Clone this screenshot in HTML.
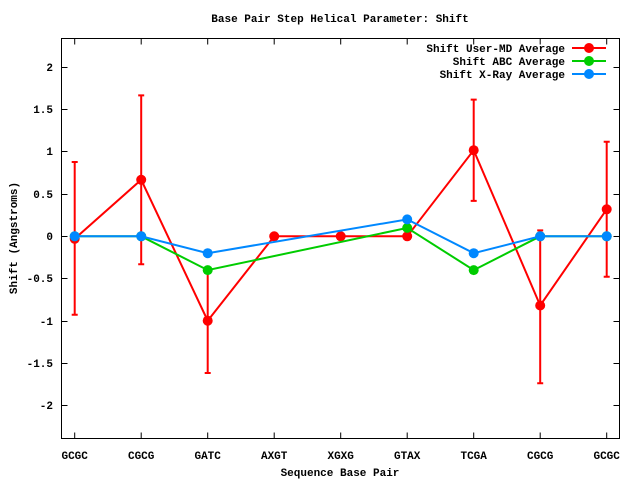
<!DOCTYPE html>
<html><head><style>
html,body{margin:0;padding:0;background:#fff;}
svg text{font-family:"Liberation Mono","DejaVu Sans Mono",monospace;font-weight:bold;font-size:11px;fill:#000;}
</style></head><body>
<svg width="640" height="480" xmlns="http://www.w3.org/2000/svg">
<rect width="640" height="480" fill="#fff"/>
<text x="340" y="22" text-anchor="middle">Base Pair Step Helical Parameter: Shift</text>
<rect x="61.5" y="38.5" width="558" height="400" fill="none" stroke="#000" stroke-width="1"/>
<g stroke="#000" stroke-width="1">
<path d="M61.5 67.5h6M619.5 67.5h-6M61.5 109.5h6M619.5 109.5h-6M61.5 151.5h6M619.5 151.5h-6M61.5 194.5h6M619.5 194.5h-6M61.5 236.5h6M619.5 236.5h-6M61.5 278.5h6M619.5 278.5h-6M61.5 321.5h6M619.5 321.5h-6M61.5 363.5h6M619.5 363.5h-6M61.5 405.5h6M619.5 405.5h-6"/>
<path d="M74.7 438.5v-6M74.7 38.5v6M141.2 438.5v-6M141.2 38.5v6M207.7 438.5v-6M207.7 38.5v6M274.2 438.5v-6M274.2 38.5v6M340.7 438.5v-6M340.7 38.5v6M407.2 438.5v-6M407.2 38.5v6M473.7 438.5v-6M473.7 38.5v6M540.2 438.5v-6M540.2 38.5v6M606.7 438.5v-6M606.7 38.5v6"/>
</g>
<g text-anchor="end">
<text x="53" y="71">2</text><text x="53" y="113">1.5</text><text x="53" y="155">1</text><text x="53" y="198">0.5</text><text x="53" y="240">0</text><text x="53" y="282">-0.5</text><text x="53" y="325">-1</text><text x="53" y="367">-1.5</text><text x="53" y="409">-2</text>
</g>
<g text-anchor="middle">
<text x="74.7" y="459">GCGC</text><text x="141.2" y="459">CGCG</text><text x="207.7" y="459">GATC</text><text x="274.2" y="459">AXGT</text><text x="340.7" y="459">XGXG</text><text x="407.2" y="459">GTAX</text><text x="473.7" y="459">TCGA</text><text x="540.2" y="459">CGCG</text><text x="606.7" y="459">GCGC</text>
<text x="340" y="476">Sequence Base Pair</text>
<text transform="translate(17,238) rotate(-90)">Shift (Angstroms)</text>
</g>
<g stroke="#f00" stroke-width="2" fill="none">
<path d="M74.7 162v152.8M71.7 162h6M71.7 314.8h6M141.2 95.4v168.8M138.2 95.4h6M138.2 264.2h6M207.7 268.4v104.6M204.7 268.4h6M204.7 373h6M473.7 99.6v101.3M470.7 99.6h6M470.7 200.9h6M540.2 230.4v152.8M537.2 230.4h6M537.2 383.2h6M606.7 141.8v135M603.7 141.8h6M603.7 276.8h6"/>
<polyline points="74.7,238.8 141.2,179.8 207.7,320.7 274.2,236.3 340.7,236.3 407.2,236.3 473.7,150.2 540.2,305.5 606.7,209.3"/>
<path d="M572 48h34"/>
</g>
<g fill="#f00">
<circle cx="74.7" cy="238.8" r="5"/><circle cx="141.2" cy="179.8" r="5"/><circle cx="207.7" cy="320.7" r="5"/><circle cx="274.2" cy="236.3" r="5"/><circle cx="340.7" cy="236.3" r="5"/><circle cx="407.2" cy="236.3" r="5"/><circle cx="473.7" cy="150.2" r="5"/><circle cx="540.2" cy="305.5" r="5"/><circle cx="606.7" cy="209.3" r="5"/><circle cx="589" cy="48" r="5"/>
</g>
<g stroke="#0c0" stroke-width="2" fill="none">
<polyline points="74.7,236.3 141.2,236.3 207.7,270.1 407.2,227.9 473.7,270.1 540.2,236.3 606.7,236.3"/>
<path d="M572 61h34"/>
</g>
<g fill="#0c0">
<circle cx="74.7" cy="236.3" r="5"/><circle cx="141.2" cy="236.3" r="5"/><circle cx="207.7" cy="270.1" r="5"/><circle cx="407.2" cy="227.9" r="5"/><circle cx="473.7" cy="270.1" r="5"/><circle cx="540.2" cy="236.3" r="5"/><circle cx="606.7" cy="236.3" r="5"/><circle cx="589" cy="61" r="5"/>
</g>
<g stroke="#08f" stroke-width="2" fill="none">
<polyline points="74.7,236.3 141.2,236.3 207.7,253.2 407.2,219.4 473.7,253.2 540.2,236.3 606.7,236.3"/>
<path d="M572 74h34"/>
</g>
<g fill="#08f">
<circle cx="74.7" cy="236.3" r="5"/><circle cx="141.2" cy="236.3" r="5"/><circle cx="207.7" cy="253.2" r="5"/><circle cx="407.2" cy="219.4" r="5"/><circle cx="473.7" cy="253.2" r="5"/><circle cx="540.2" cy="236.3" r="5"/><circle cx="606.7" cy="236.3" r="5"/><circle cx="589" cy="74" r="5"/>
</g>
<g text-anchor="end">
<text x="565" y="52">Shift User-MD Average</text>
<text x="565" y="65">Shift ABC Average</text>
<text x="565" y="78">Shift X-Ray Average</text>
</g>
</svg>
</body></html>
